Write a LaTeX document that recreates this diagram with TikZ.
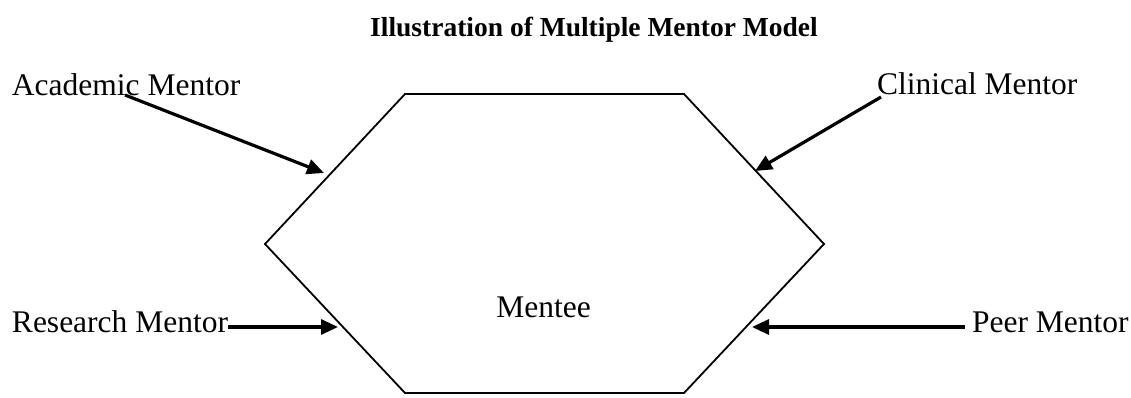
\documentclass[tikz,border=0pt]{standalone}
\usepackage{fontspec}
\setmainfont{Liberation Serif}
\usetikzlibrary{arrows.meta}
\begin{document}
\begin{tikzpicture}[x=1pt,y=-1pt,
  lbl/.style={inner sep=0pt,outer sep=0pt,anchor=base west,font=\fontsize{31.5}{36}\selectfont},
  hexline/.style={line width=1.8pt,line join=miter},
  arr/.style={line width=3.2pt,-{Triangle[length=17pt,width=15pt]}}]
\useasboundingbox (0,0) rectangle (1131,398);
% title
\node[inner sep=0pt,anchor=base,font=\fontsize{27.5}{32}\selectfont\bfseries] (title) at (594,37) {Illustration of Multiple Mentor Model};
% hexagon
\coordinate (h1) at (405,94);
\coordinate (h2) at (684,94);
\coordinate (h3) at (824,244);
\coordinate (h4) at (684,393);
\coordinate (h5) at (405,393);
\coordinate (h6) at (265,244);
\draw[hexline] (h1) -- (h2) -- (h3) -- (h4) -- (h5) -- (h6) -- cycle;
\node[lbl,anchor=base] (mentee) at (543.5,317) {Mentee};
% labels
\node[lbl] (acad) at (12,96) {Academic Mentor};
\node[lbl] (clin) at (877,95) {Clinical Mentor};
\node[lbl] (res) at (12,332) {Research Mentor};
\node[lbl] (peer) at (972,332) {Peer Mentor};
% arrow anchor points
\coordinate (a0) at (125,95);
\coordinate (a1) at (324,173);
\coordinate (c0) at (881,97);
\coordinate (c1) at (755,171);
\coordinate (r1) at (338,327);
\coordinate (p1) at (752,327);
\draw[arr] (a0) -- (a1);
\draw[arr] (c0) -- (c1);
\draw[arr] (res.east |- r1) -- (r1);
\draw[arr] ([xshift=-7pt]peer.west |- p1) -- (p1);
\end{tikzpicture}
\end{document}
